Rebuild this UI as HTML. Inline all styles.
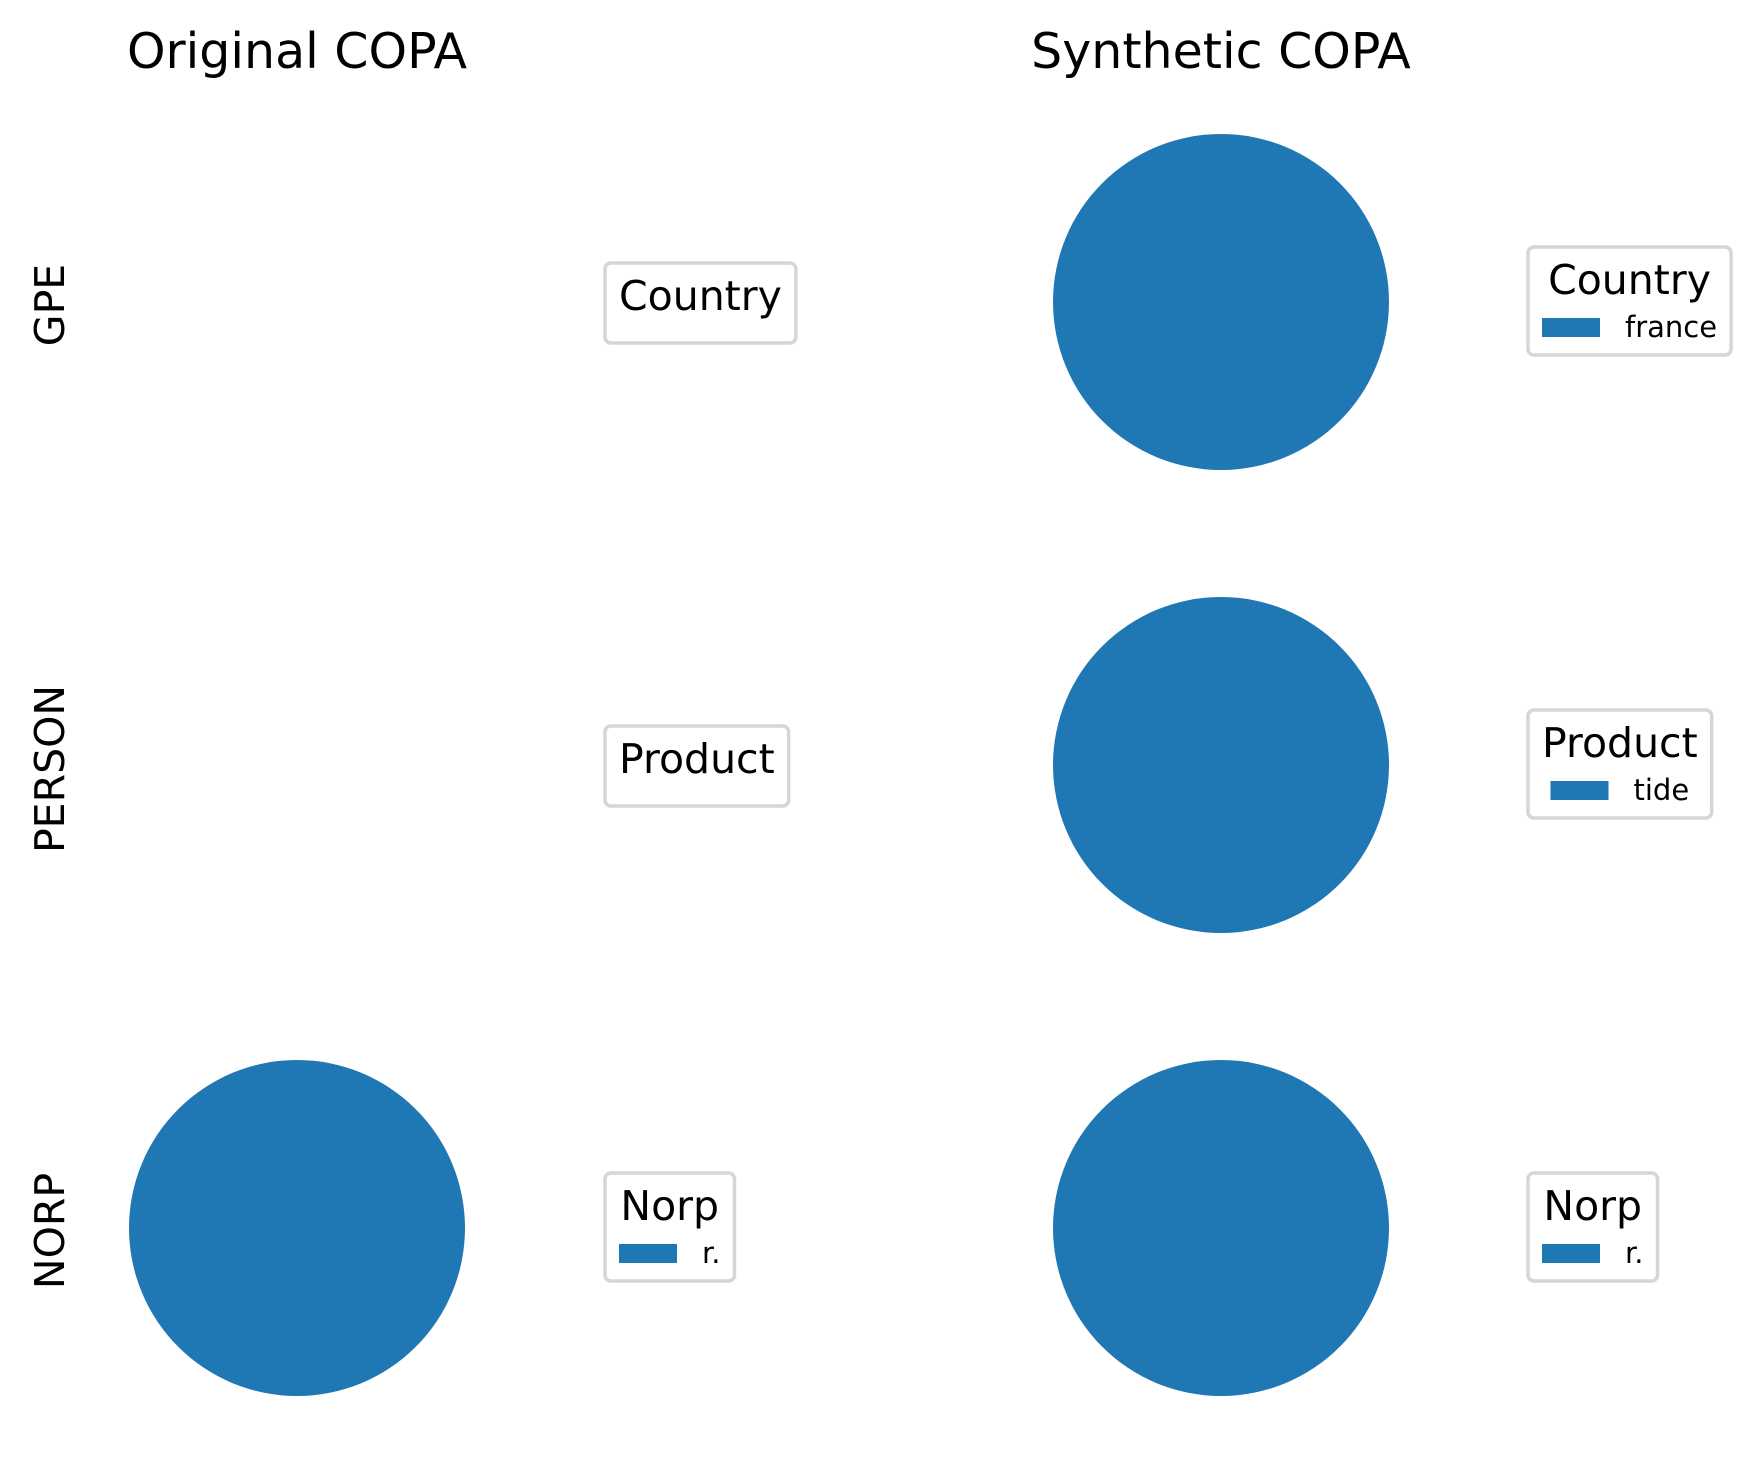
<!DOCTYPE html>
<html><head><meta charset="utf-8"><style>
html,body{margin:0;padding:0;background:#fff}
svg{display:block;font-family:"DejaVu Sans","Liberation Sans",sans-serif}
</style></head><body>
<svg id="fig" width="1754" height="1466" viewBox="0 0 1754 1466" xmlns="http://www.w3.org/2000/svg">
<text x="297" y="68" font-size="49" text-anchor="middle">Original COPA</text>
<text x="1221" y="68" font-size="49" text-anchor="middle">Synthetic COPA</text>
<text transform="translate(64,305) rotate(-90)" font-size="41" text-anchor="middle">GPE</text>
<text transform="translate(64,769) rotate(-90)" font-size="41" text-anchor="middle">PERSON</text>
<text transform="translate(64,1231) rotate(-90)" font-size="41" text-anchor="middle">NORP</text>
</svg>
<script>
const NS="http://www.w3.org/2000/svg";
const svg=document.getElementById('fig');
// data
const panelNames=["orig-gpe","orig-person","orig-norp","syn-gpe","syn-person","syn-norp"];
const legendTitles=["Country","Product","Norp","Country","Product","Norp"];
const origGpeLabels=[];          const origGpeValues=[];
const origPersonLabels=[];       const origPersonValues=[];
const origNorpLabels=["r."];     const origNorpValues=[1];
const synGpeLabels=["france"];   const synGpeValues=[1];
const synPersonLabels=["tide"];  const synPersonValues=[1];
const synNorpLabels=["r."];      const synNorpValues=[1];
const allLabels=[origGpeLabels,origPersonLabels,origNorpLabels,synGpeLabels,synPersonLabels,synNorpLabels];
const allValues=[origGpeValues,origPersonValues,origNorpValues,synGpeValues,synPersonValues,synNorpValues];
const colors=["#1f77b4","#ff7f0e","#2ca02c","#d62728","#9467bd","#8c564b"];
// layout
const colCx=[297,1221], rowCy=[302,765,1228], R=168;
const legX=[605,1528];
function el(tag,attrs){const e=document.createElementNS(NS,tag);for(const k in attrs)e.setAttribute(k,attrs[k]);svg.appendChild(e);return e;}
function textW(s,size){const t=el('text',{x:-9999,y:-9999,'font-size':size});t.textContent=s;const w=t.getComputedTextLength();t.remove();return w;}
for(let p=0;p<6;p++){
  const col=Math.floor(p/3),row=p%3;
  const cx=colCx[col],cy=rowCy[row];
  const vals=allValues[p],labs=allLabels[p];
  const total=vals.reduce((a,b)=>a+b,0);
  let ang=0;
  vals.forEach((v,i)=>{
    const frac=v/total;let e;
    if(frac>=0.9999){
      e=el('circle',{cx:cx,cy:cy,r:R,fill:colors[i%colors.length]});
    }else{
      const a0=ang*2*Math.PI,a1=(ang+frac)*2*Math.PI;
      const x0=cx+R*Math.cos(a0),y0=cy-R*Math.sin(a0),x1=cx+R*Math.cos(a1),y1=cy-R*Math.sin(a1);
      e=el('path',{d:`M${cx},${cy}L${x0},${y0}A${R},${R} 0 ${frac>0.5?1:0} 0 ${x1},${y1}Z`,fill:colors[i%colors.length]});
    }
    
    
    ang+=frac;
  });
  // legend
  const lx=legX[col];
  const titleW=textW(legendTitles[p],41);
  let rowW=0;labs.forEach(l=>{rowW=Math.max(rowW,58+25+textW(l,29));});
  const inner=Math.max(titleW,rowW);
  const bw=inner+28;
  const bh=labs.length?108:80;
  const top=cy-(labs.length?55:39);
  const box=el('rect',{x:lx,y:top,width:bw,height:bh,rx:6,fill:'#fff',stroke:'#d6d6d6','stroke-width':3.5});
  
  
  const tt=el('text',{x:lx+bw/2,y:top+47,'font-size':41,'text-anchor':'middle'});
  tt.textContent=legendTitles[p];
  
  
  labs.forEach((l,i)=>{
    const rx=lx+(bw-rowW)/2, ry=top+71+i*40;
    const pr=el('rect',{x:rx,y:ry,width:58,height:19,fill:colors[i%colors.length]});
    
    
    const lt=el('text',{x:rx+83,y:ry+19,'font-size':29});
    lt.textContent=l;
    
    
  });
}
</script>
</body></html>
